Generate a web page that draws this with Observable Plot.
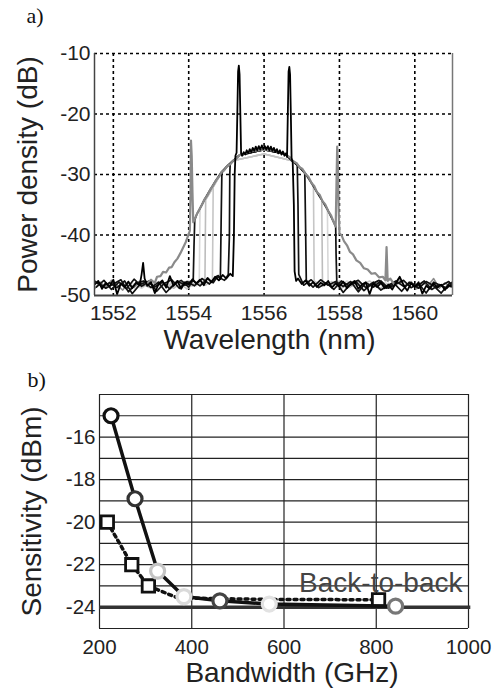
<!DOCTYPE html>
<html>
<head>
<meta charset="utf-8">
<script src="https://cdn.jsdelivr.net/npm/d3@7"></script>
<script src="https://cdn.jsdelivr.net/npm/@observablehq/plot@0.6"></script>
<style>
  html, body { margin: 0; padding: 0; background: #fff; }
  #wrap { width: 502px; height: 689px; position: relative; overflow: hidden; }
  #wrap svg { display: block; }
</style>
</head>
<body>
<div id="wrap"></div>
<script>
// ---------------- Panel a) data : [wavelength (nm), power density (dB)] ----------------
const xTicksA = [1552, 1554, 1556, 1558, 1560];
const yTicksA = [-50, -40, -30, -20, -10];

const lightTrace1 = [[1552.6,-48.3],[1552.85,-47.6],[1553.1,-48.5],[1553.35,-47.9],[1553.6,-48.8],[1553.85,-47.7],[1554.1,-48.4],[1554.3,-47.5],[1554.43,-48.0],[1554.45,-34.2],[1554.6,-32.6],[1554.9,-29.4],[1555.2,-27.7],[1556.0,-26.6],[1556.8,-27.8],[1557.1,-29.9],[1557.4,-32.9],[1557.53,-34.2],[1557.55,-47.8],[1557.75,-48.4],[1558.0,-47.6],[1558.25,-48.7],[1558.5,-47.9],[1558.75,-48.6],[1559.0,-47.8],[1559.25,-48.5],[1559.5,-47.7]];
const lightTrace2 = [[1552.7,-47.8],[1552.95,-48.7],[1553.2,-47.7],[1553.45,-48.4],[1553.7,-47.6],[1553.95,-48.9],[1554.2,-47.8],[1554.45,-48.3],[1554.63,-47.4],[1554.65,-31.9],[1554.9,-29.4],[1555.2,-27.7],[1556.0,-26.6],[1556.8,-27.8],[1557.1,-29.9],[1557.31,-31.9],[1557.33,-47.6],[1557.55,-48.5],[1557.8,-47.7],[1558.05,-48.8],[1558.3,-47.9],[1558.55,-48.4],[1558.8,-47.6],[1559.05,-48.9],[1559.3,-48.0]];
const lightTrace3 = [[1552.5,-48.0],[1552.75,-48.8],[1553.0,-47.7],[1553.25,-48.6],[1553.5,-47.9],[1553.75,-48.3],[1554.0,-47.5],[1554.2,-48.4],[1554.28,-47.7],[1554.3,-35.6],[1554.6,-32.6],[1554.9,-29.4],[1555.2,-27.7],[1556.0,-26.6],[1556.8,-27.8],[1557.1,-29.9],[1557.4,-32.9],[1557.68,-35.8],[1557.7,-47.9],[1557.95,-48.6],[1558.2,-47.6],[1558.45,-48.5],[1558.7,-47.8],[1558.95,-48.7],[1559.2,-47.9],[1559.45,-48.4],[1559.7,-47.8]];

const grayFloorLeft = [[1551.5,-48.9],[1551.65,-47.8],[1551.8,-48.6],[1551.95,-47.5],[1552.1,-48.3],[1552.25,-49.1],[1552.4,-47.9],[1552.55,-48.7],[1552.7,-47.6],[1552.8,-48.4],[1552.9,-48.0]];
const grayFloorRight = [[1559.45,-48.1],[1559.6,-47.3],[1559.75,-48.5],[1559.9,-47.7],[1560.05,-48.9],[1560.2,-47.8],[1560.35,-48.4],[1560.5,-47.2],[1560.65,-48.8],[1560.8,-47.9],[1560.95,-48.6],[1561.0,-48.2]];

const blackTraceD = [[1551.6,-47.9],[1551.8,-48.8],[1552.0,-48.1],[1552.2,-47.4],[1552.4,-49.4],[1552.6,-48.0],[1552.8,-47.6],[1553.0,-48.7],[1553.2,-47.8],[1553.4,-49.5],[1553.6,-48.2],[1553.8,-47.5],[1554.0,-48.6],[1554.12,-47.4],[1554.14,-42.0],[1554.16,-37.5],[1554.22,-36.5],[1554.3,-35.6],[1554.42,-34.1],[1554.57,-32.5],[1554.72,-31.0],[1554.87,-29.6],[1555.02,-28.6],[1555.18,-27.7],[1555.35,-26.8],[1556.0,-25.9],[1556.55,-26.6],[1556.78,-27.9],[1556.94,-28.8],[1557.1,-29.9],[1557.26,-31.4],[1557.4,-32.9],[1557.55,-34.4],[1557.7,-36.0],[1557.85,-37.9],[1557.9,-38.6],[1557.91,-43.0],[1557.93,-47.8],[1558.1,-48.5],[1558.3,-47.7],[1558.5,-49.4],[1558.7,-47.9],[1558.9,-48.6],[1559.1,-47.6],[1559.3,-48.8],[1559.5,-48.1],[1559.7,-47.5],[1559.9,-48.7],[1560.1,-48.0],[1560.3,-49.6],[1560.5,-47.8],[1560.7,-48.4],[1560.9,-47.7],[1561.0,-48.5]];
const blackTraceC = [[1551.5,-47.6],[1551.7,-48.5],[1551.9,-47.9],[1552.1,-48.7],[1552.3,-47.6],[1552.5,-49.7],[1552.7,-48.2],[1552.9,-47.7],[1553.1,-48.6],[1553.3,-47.8],[1553.5,-48.9],[1553.7,-47.6],[1553.9,-48.3],[1554.1,-47.5],[1554.3,-48.4],[1554.5,-47.2],[1554.65,-47.9],[1554.78,-46.7],[1554.84,-47.3],[1554.86,-38.0],[1554.88,-29.7],[1555.02,-28.6],[1555.18,-27.7],[1555.35,-26.8],[1556.0,-25.9],[1556.55,-26.6],[1556.78,-27.9],[1556.94,-28.8],[1557.08,-29.7],[1557.1,-38.0],[1557.12,-47.5],[1557.3,-48.6],[1557.5,-47.4],[1557.7,-48.3],[1557.9,-47.7],[1558.1,-49.5],[1558.3,-48.0],[1558.5,-47.5],[1558.7,-48.7],[1558.9,-47.8],[1559.1,-49.1],[1559.3,-48.3],[1559.5,-47.6],[1559.7,-48.5],[1559.9,-47.9],[1560.1,-48.8],[1560.3,-47.7],[1560.5,-48.4],[1560.7,-49.6],[1560.9,-48.1],[1561.0,-47.8]];
const blackTraceB = [[1551.55,-48.6],[1551.75,-47.5],[1551.95,-49.0],[1552.15,-47.8],[1552.35,-48.9],[1552.55,-47.3],[1552.75,-48.5],[1552.95,-47.6],[1553.15,-49.3],[1553.35,-48.0],[1553.55,-47.4],[1553.75,-48.8],[1553.95,-47.7],[1554.15,-48.4],[1554.35,-47.2],[1554.55,-48.1],[1554.75,-46.8],[1554.95,-47.5],[1555.05,-46.5],[1555.08,-40.0],[1555.09,-30.0],[1555.1,-28.3],[1555.18,-27.7],[1555.35,-26.8],[1556.0,-25.9],[1556.55,-26.6],[1556.78,-27.9],[1556.88,-28.3],[1556.9,-35.0],[1556.92,-46.5],[1557.05,-48.3],[1557.25,-47.4],[1557.45,-48.7],[1557.65,-47.9],[1557.85,-49.0],[1558.05,-47.6],[1558.25,-48.4],[1558.45,-47.8],[1558.65,-49.2],[1558.85,-48.1],[1559.05,-47.5],[1559.25,-48.8],[1559.45,-48.0],[1559.65,-49.3],[1559.85,-47.8],[1560.05,-48.5],[1560.25,-47.6],[1560.45,-49.0],[1560.65,-48.2],[1560.85,-48.8],[1561.0,-47.9]];

const grayDome = [[1552.9,-48.0],[1553.0,-47.4],[1553.1,-47.9],[1553.16,-46.9],[1553.25,-46.8],[1553.32,-46.1],[1553.4,-46.2],[1553.48,-45.4],[1553.55,-45.3],[1553.62,-44.5],[1553.7,-43.9],[1553.78,-43.0],[1553.85,-42.1],[1553.92,-41.2],[1553.98,-40.2],[1554.03,-39.3],[1554.05,-33.0],[1554.06,-24.4],[1554.08,-27.0],[1554.1,-33.0],[1554.12,-37.9],[1554.15,-37.5],[1554.22,-36.5],[1554.3,-35.6],[1554.36,-34.9],[1554.42,-34.1],[1554.5,-33.4],[1554.57,-32.5],[1554.64,-31.9],[1554.72,-31.0],[1554.8,-30.4],[1554.87,-29.6],[1554.94,-29.3],[1555.02,-28.6],[1555.1,-28.3],[1555.18,-27.7],[1555.26,-27.4],[1555.35,-26.8],[1555.5,-26.5],[1555.7,-26.1],[1556.0,-25.9],[1556.3,-26.1],[1556.55,-26.6],[1556.7,-27.2],[1556.78,-27.9],[1556.86,-28.1],[1556.94,-28.8],[1557.02,-29.1],[1557.1,-29.9],[1557.18,-30.4],[1557.26,-31.4],[1557.33,-31.9],[1557.4,-32.9],[1557.48,-33.4],[1557.55,-34.4],[1557.62,-34.9],[1557.7,-36.0],[1557.78,-36.8],[1557.85,-37.9],[1557.9,-38.6],[1557.92,-32.0],[1557.94,-25.4],[1557.96,-29.0],[1557.98,-36.0],[1558.0,-39.7],[1558.06,-40.1],[1558.12,-41.0],[1558.2,-41.7],[1558.28,-42.8],[1558.36,-43.2],[1558.45,-44.2],[1558.55,-44.6],[1558.65,-45.5],[1558.75,-45.7],[1558.85,-46.4],[1558.95,-46.3],[1559.05,-47.0],[1559.15,-46.9],[1559.22,-47.5],[1559.25,-42.0],[1559.28,-47.6],[1559.35,-47.2],[1559.45,-48.1]];

const blackTraceA = [[1551.5,-48.2],[1551.6,-47.6],[1551.7,-48.9],[1551.8,-47.9],[1551.9,-48.5],[1552.0,-47.4],[1552.1,-49.8],[1552.2,-48.0],[1552.3,-48.6],[1552.4,-47.7],[1552.5,-48.8],[1552.6,-47.9],[1552.7,-48.3],[1552.75,-46.5],[1552.79,-44.6],[1552.83,-47.2],[1552.9,-48.4],[1553.0,-47.8],[1553.1,-49.6],[1553.2,-48.1],[1553.3,-47.5],[1553.4,-48.7],[1553.5,-46.8],[1553.6,-48.4],[1553.7,-47.6],[1553.8,-48.9],[1553.9,-47.8],[1554.0,-48.2],[1554.1,-47.3],[1554.2,-48.0],[1554.3,-47.4],[1554.4,-48.3],[1554.5,-47.1],[1554.6,-47.8],[1554.7,-46.9],[1554.8,-47.5],[1554.9,-46.6],[1555.0,-47.2],[1555.1,-46.4],[1555.17,-46.8],[1555.2,-40.0],[1555.22,-30.0],[1555.24,-26.9],[1555.27,-26.4],[1555.29,-20.0],[1555.31,-13.0],[1555.33,-12.0],[1555.35,-13.5],[1555.37,-20.0],[1555.39,-26.5],[1555.42,-26.9],[1555.46,-26.3],[1555.5,-26.7],[1555.54,-26.0],[1555.58,-26.5],[1555.62,-25.8],[1555.66,-26.3],[1555.7,-25.6],[1555.74,-26.1],[1555.78,-25.4],[1555.82,-26.0],[1555.86,-25.3],[1555.9,-25.9],[1555.94,-25.2],[1555.98,-25.8],[1556.02,-25.3],[1556.06,-25.9],[1556.1,-25.3],[1556.14,-26.0],[1556.18,-25.4],[1556.22,-26.1],[1556.26,-25.6],[1556.3,-26.3],[1556.34,-25.8],[1556.38,-26.5],[1556.42,-26.0],[1556.46,-26.7],[1556.5,-26.2],[1556.54,-26.9],[1556.58,-26.5],[1556.61,-27.1],[1556.63,-20.0],[1556.65,-13.0],[1556.67,-12.2],[1556.69,-13.5],[1556.71,-20.0],[1556.73,-27.3],[1556.76,-28.0],[1556.79,-35.0],[1556.81,-46.0],[1556.85,-47.6],[1556.9,-47.2],[1557.0,-48.1],[1557.1,-47.5],[1557.2,-48.4],[1557.3,-47.8],[1557.4,-48.6],[1557.5,-47.9],[1557.6,-48.3],[1557.7,-47.6],[1557.8,-48.7],[1557.9,-48.0],[1558.0,-48.5],[1558.1,-47.7],[1558.2,-48.8],[1558.3,-48.1],[1558.4,-47.6],[1558.5,-48.9],[1558.6,-48.2],[1558.7,-47.8],[1558.8,-49.8],[1558.9,-48.0],[1559.0,-48.6],[1559.1,-47.9],[1559.2,-48.8],[1559.3,-48.2],[1559.4,-49.0],[1559.5,-47.9],[1559.6,-46.9],[1559.7,-48.3],[1559.8,-49.2],[1559.9,-48.0],[1560.0,-48.6],[1560.1,-47.8],[1560.2,-49.7],[1560.3,-48.4],[1560.4,-48.9],[1560.5,-48.0],[1560.6,-48.7],[1560.7,-48.2],[1560.8,-49.1],[1560.9,-48.3],[1561.0,-48.6]];

// ---------------- Panel b) data ----------------
const xTicksB = [200, 400, 600, 800, 1000];
const yTicksB = [-16, -18, -20, -22, -24];
const yGridB = [-25, -24, -23, -22, -21, -20, -19, -18, -17, -16, -15, -14];
const circleBandwidth = [225, 277, 326, 383, 461, 568, 842];
const circleSensitivity = [-15.0, -18.9, -22.3, -23.5, -23.7, -23.85, -23.95];
const squareBandwidth = [217, 270, 306, 805];
const squareSensitivity = [-20.0, -22.0, -23.0, -23.65];
const dottedBandwidth = [217, 270, 306, 368, 460, 570, 805];
const dottedSensitivity = [-20.0, -22.0, -23.0, -23.55, -23.6, -23.63, -23.65];
const backToBack = -24;

// ---------------- drawing ----------------
const FONT = "'Liberation Sans', Arial, Helvetica, sans-serif";
const SERIF = "'Liberation Serif', 'Times New Roman', serif";
const fmt = d => `${d}`;
const line = (data, stroke, strokeWidth) =>
  Plot.line(data, {x: d => d[0], y: d => d[1], stroke, strokeWidth, clip: true, strokeLinejoin: "round"});

const plotA = Plot.plot({
  width: 502, height: 360,
  marginLeft: 94, marginRight: 50, marginTop: 53, marginBottom: 65,
  x: {domain: [1551.5, 1561]},
  y: {domain: [-50, -10]},
  style: {fontFamily: FONT, fontSize: "21px", color: "#222", background: "white"},
  marks: [
    Plot.ruleX(xTicksA, {stroke: "#000", strokeWidth: 1.6, strokeDasharray: "3,3"}),
    Plot.ruleY(yTicksA.filter(v => v > -50), {stroke: "#000", strokeWidth: 1.6, strokeDasharray: "3,3"}),
    line(lightTrace3, "#d8d8d8", 1.6),
    line(lightTrace1, "#bdbdbd", 1.6),
    line(lightTrace2, "#c6c6c6", 1.6),
    line(grayFloorLeft, "#8c8c8c", 1.6),
    line(grayFloorRight, "#8c8c8c", 1.6),
    line(blackTraceD, "#111", 1.7),
    line(blackTraceC, "#111", 1.7),
    line(blackTraceB, "#111", 1.7),
    line(grayDome, "#8a8a8a", 2.2),
    line(blackTraceA, "#000", 1.8),
    Plot.ruleX([1551.5], {stroke: "#444", strokeWidth: 1.5}),
    Plot.ruleX([1561], {stroke: "#777", strokeWidth: 1.5}),
    Plot.ruleY([-50], {stroke: "#444", strokeWidth: 2}),
    Plot.axisX({ticks: xTicksA, tickSize: 0, tickPadding: 10, label: null, tickFormat: fmt, fontSize: 21}),
    Plot.axisY({ticks: yTicksA, tickSize: 0, tickPadding: 4, label: null, tickFormat: fmt, fontSize: 21}),
    Plot.text(["Wavelength (nm)"], {text: d => d, frameAnchor: "bottom", dy: 45, dx: -4, textAnchor: "middle", lineAnchor: "middle", fontSize: 28, fill: "#222"}),
    Plot.text(["Power density (dB)"], {text: d => d, frameAnchor: "left", dx: -66, rotate: -90, textAnchor: "middle", lineAnchor: "middle", fontSize: 28, fill: "#222"}),
    Plot.text(["a)"], {text: d => d, frameAnchor: "top-left", dx: -68, dy: -31, textAnchor: "start", lineAnchor: "bottom", fontSize: 22, fontFamily: SERIF, fill: "#111"})
  ]
});

const circles = circleBandwidth.map((b, i) => ({b, s: circleSensitivity[i], i}));
const squares = squareBandwidth.map((b, i) => ({b, s: squareSensitivity[i]}));
const dotted = dottedBandwidth.map((b, i) => ({b, s: dottedSensitivity[i]}));
const circleStroke = ["#111", "#333", "#c4c4c4", "#dadada", "#444", "#e2e2e2", "#777"];

const plotB = Plot.plot({
  width: 502, height: 329,
  marginLeft: 99, marginRight: 34, marginTop: 34, marginBottom: 61,
  x: {domain: [200, 1000]},
  y: {domain: [-25, -14]},
  style: {fontFamily: FONT, fontSize: "20px", color: "#222", background: "white"},
  marks: [
    Plot.ruleY(yGridB, {stroke: "#222", strokeWidth: 1.2}),
    Plot.ruleX(xTicksB, {stroke: "#222", strokeWidth: 1.2}),
    Plot.ruleY([backToBack], {x1: 200, x2: 1005, stroke: "#333", strokeWidth: 3.5}),
    Plot.line(dotted, {x: "b", y: "s", stroke: "#111", strokeWidth: 3.5, strokeDasharray: "3,4"}),
    Plot.dot(squares, {x: "b", y: "s", symbol: "square", r: 7, stroke: "#111", strokeWidth: 2.8, fill: "white"}),
    Plot.line(circles, {x: "b", y: "s", stroke: "#111", strokeWidth: 3.5}),
    Plot.dot(circles, {x: "b", y: "s", r: 7, stroke: d => circleStroke[d.i], strokeWidth: 3.2, fill: "white"}),
    Plot.text(["Back-to-back"], {text: d => d, x: 987, y: -22.85, textAnchor: "end", lineAnchor: "middle", fontSize: 28, fill: "#444"}),
    Plot.axisX({ticks: xTicksB, tickSize: 0, tickPadding: 11, label: null, tickFormat: fmt, fontSize: 20.5}),
    Plot.axisY({ticks: yTicksB, tickSize: 0, tickPadding: 4, label: null, tickFormat: fmt, fontSize: 20.5}),
    Plot.text(["Bandwidth (GHz)"], {text: d => d, frameAnchor: "bottom", dy: 45, dx: 8, textAnchor: "middle", lineAnchor: "middle", fontSize: 28, fill: "#222"}),
    Plot.text(["Sensitivity (dBm)"], {text: d => d, frameAnchor: "left", dx: -67, rotate: -90, textAnchor: "middle", lineAnchor: "middle", fontSize: 28, fill: "#222"}),
    Plot.text(["b)"], {text: d => d, frameAnchor: "top-left", dx: -72, dy: -8, textAnchor: "start", lineAnchor: "bottom", fontSize: 22, fontFamily: SERIF, fill: "#111"})
  ]
});

const wrap = document.getElementById("wrap");
wrap.appendChild(plotA);
wrap.appendChild(plotB);
</script>
</body>
</html>
